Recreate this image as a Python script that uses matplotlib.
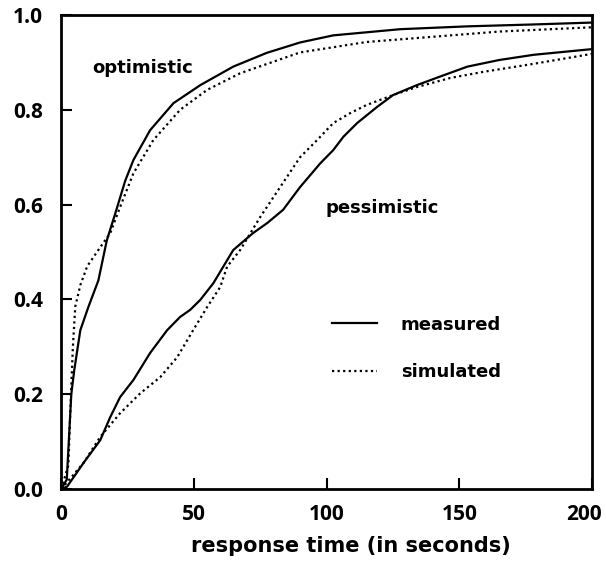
import matplotlib
matplotlib.use("Agg")
import matplotlib.pyplot as plt
from matplotlib.transforms import ScaledTranslation

# response time (s) vs cumulative fraction
opt_meas_x = [0, 2.1, 3.8, 4.9, 7.2, 10.3, 14, 17.2, 20.3, 24.1, 27.2, 33.5, 42.3, 52.4,
              64.8, 77.4, 90, 102.5, 127.7, 153, 178, 200]
opt_meas_y = [0, 0.02, 0.20, 0.25, 0.335, 0.385, 0.44, 0.525, 0.58, 0.65, 0.694, 0.757,
              0.814, 0.852, 0.891, 0.92, 0.942, 0.957, 0.97, 0.976, 0.98, 0.984]

opt_sim_x = [0, 2.7, 3.4, 4.4, 5.3, 7.2, 9.8, 14.7, 18.5, 22.2, 27.2, 34.7, 44.8, 55,
             67.4, 90, 115, 140, 165, 200]
opt_sim_y = [0, 0.05, 0.16, 0.30, 0.385, 0.43, 0.47, 0.51, 0.54, 0.595, 0.666, 0.736,
             0.80, 0.842, 0.877, 0.921, 0.943, 0.954, 0.965, 0.974]

pes_meas_x = [0, 2.2, 8.4, 14.7, 18.5, 22.2, 27.2, 33.5, 39.9, 44.8, 48.6, 52.4, 57.3,
              64.8, 72.3, 77.6, 83.6, 90, 97.6, 102.5, 106.3, 111.5, 119, 125, 134,
              142.7, 153, 165, 178, 200]
pes_meas_y = [0, 0.005, 0.055, 0.103, 0.152, 0.194, 0.23, 0.287, 0.335, 0.363, 0.378,
              0.399, 0.434, 0.504, 0.54, 0.561, 0.589, 0.637, 0.687, 0.715, 0.743, 0.772,
              0.806, 0.831, 0.852, 0.870, 0.891, 0.905, 0.916, 0.928]

pes_sim_x = [0, 8.4, 14.7, 22.2, 29.8, 37.3, 43.7, 49.7, 55, 59.9, 62.5, 67.4, 75, 82.5,
             90, 96.4, 102.5, 108.9, 115, 125, 134, 146.5, 159, 178, 200]
pes_sim_y = [0, 0.055, 0.11, 0.16, 0.202, 0.236, 0.278, 0.335, 0.384, 0.426, 0.469,
             0.504, 0.574, 0.637, 0.70, 0.736, 0.772, 0.793, 0.81, 0.831, 0.848, 0.867,
             0.880, 0.897, 0.918]

x_ticks = [0, 50, 100, 150, 200]
y_ticks = [0, 0.2, 0.4, 0.6, 0.8, 1.0]
y_tick_labels = ["0.0", "0.2", "0.4", "0.6", "0.8", "1.0"]

plt.rcParams["font.family"] = "DejaVu Sans"
plt.rcParams["font.weight"] = "bold"

fig = plt.figure(figsize=(6.06, 5.63), dpi=100)
ax = fig.add_axes([0.101, 0.1314, 0.876, 0.8420])

dots = (0, (1, 1.5))
ax.plot(opt_meas_x, opt_meas_y, color="black", lw=1.6)
ax.plot(opt_sim_x, opt_sim_y, color="black", lw=1.6, linestyle=dots)
ax.plot(pes_meas_x, pes_meas_y, color="black", lw=1.6)
ax.plot(pes_sim_x, pes_sim_y, color="black", lw=1.6, linestyle=dots)

ax.text(30.5, 0.888, "optimistic", ha="center", va="center", fontsize=13, fontweight="bold")
ax.text(120.9, 0.593, "pessimistic", ha="center", va="center", fontsize=13, fontweight="bold")

# hand-placed key
ax.plot([102, 119], [0.35, 0.35], color="black", lw=1.6)
ax.plot([102, 119], [0.25, 0.25], color="black", lw=1.6, linestyle=dots)
ax.text(128, 0.345, "measured", ha="left", va="center", fontsize=13, fontweight="bold")
ax.text(128, 0.247, "simulated", ha="left", va="center", fontsize=13, fontweight="bold")

ax.set_xlim(0, 200)
ax.set_ylim(0, 1)
ax.set_xticks(x_ticks)
ax.set_yticks(y_ticks)
ax.set_yticklabels(y_tick_labels)
ax.tick_params(direction="in", length=8, width=1.5)
ax.tick_params(axis="x", pad=11)
ax.tick_params(axis="y", pad=13)
for lab in ax.get_xticklabels() + ax.get_yticklabels():
    lab.set_fontfamily("Open Sans")
    lab.set_fontweight("bold")
    lab.set_fontsize(15)
for s in ax.spines.values():
    s.set_linewidth(2)

# the last x label sits a little left of its tick in the original
last = ax.get_xticklabels()[-1]
last.set_transform(last.get_transform() + ScaledTranslation(-6 / 72, 0, fig.dpi_scale_trans))

ax.set_xlabel("response time (in seconds)", fontsize=15, fontweight="bold")
ax.xaxis.set_label_coords(0.546, -0.1)

fig.savefig("out.png", dpi=100)
